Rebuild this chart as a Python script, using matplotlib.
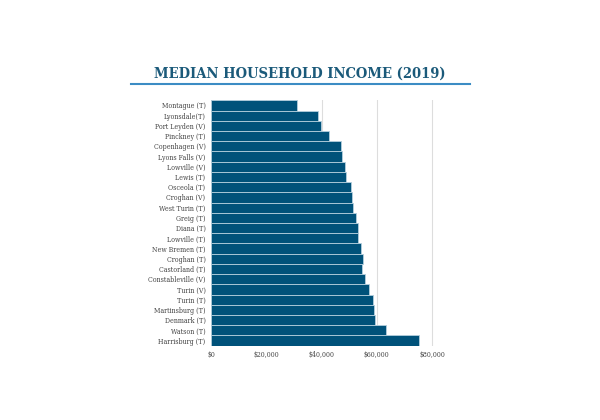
import matplotlib.pyplot as plt
from matplotlib.lines import Line2D

places = ['Montague (T)', 'Lyonsdale(T)', 'Port Leyden (V)', 'Pinckney (T)',
          'Copenhagen (V)', 'Lyons Falls (V)', 'Lowville (V)', 'Lewis (T)',
          'Osceola (T)', 'Croghan (V)', 'West Turin (T)', 'Greig (T)',
          'Diana (T)', 'Lowville (T)', 'New Bremen (T)', 'Croghan (T)',
          'Castorland (T)', 'Constableville (V)', 'Turin (V)', 'Turin (T)',
          'Martinsburg (T)', 'Denmark (T)', 'Watson (T)', 'Harrisburg (T)']
income = [31250, 38800, 39800, 42600, 46900, 47500, 48400, 49000,
          50500, 50900, 51300, 52300, 53100, 53300, 54200, 54900,
          54800, 55700, 57200, 58500, 58900, 59500, 63300, 75300]
xticks = [0, 20000, 40000, 60000, 80000]
xlabels = ['$0', '$20,000', '$40,000', '$60,000', '$80,000']

fig = plt.figure(figsize=(6, 4.2), dpi=100)
ax = fig.add_axes([211/600, 1-345.7/420, 223/600, 245.4/420])

ypos = list(range(len(places)))
ax.barh(ypos, income, height=1.0, color='#00527a', edgecolor='#b4cfdd', linewidth=0.6, zorder=3)
ax.set_ylim(len(places) - 0.5, -0.5)
ax.set_xlim(0, 80700)
ax.set_yticks(ypos)
ax.set_yticklabels(places, family='DejaVu Serif', fontstretch='condensed',
                   fontsize=5, color='#444444')
ax.set_xticks(xticks)
ax.set_xticklabels(xlabels, family='DejaVu Serif', fontstretch='condensed',
                   fontsize=5, color='#444444')
ax.tick_params(length=0, pad=4)
ax.grid(axis='x', color='#dddddd', linewidth=0.8, zorder=0)
for s in ax.spines.values():
    s.set_visible(False)

fig.text(0.5, 1-74/420, 'MEDIAN HOUSEHOLD INCOME (2019)', ha='center', va='center',
         family='DejaVu Serif', fontstretch='condensed', fontweight='bold',
         fontsize=10.5, color='#1b5a7a')
fig.add_artist(Line2D([131/600, 470/600], [1-83.5/420, 1-83.5/420],
                      transform=fig.transFigure, color='#3b8cc4', linewidth=1.5))

fig.savefig('out.png', dpi=100)
